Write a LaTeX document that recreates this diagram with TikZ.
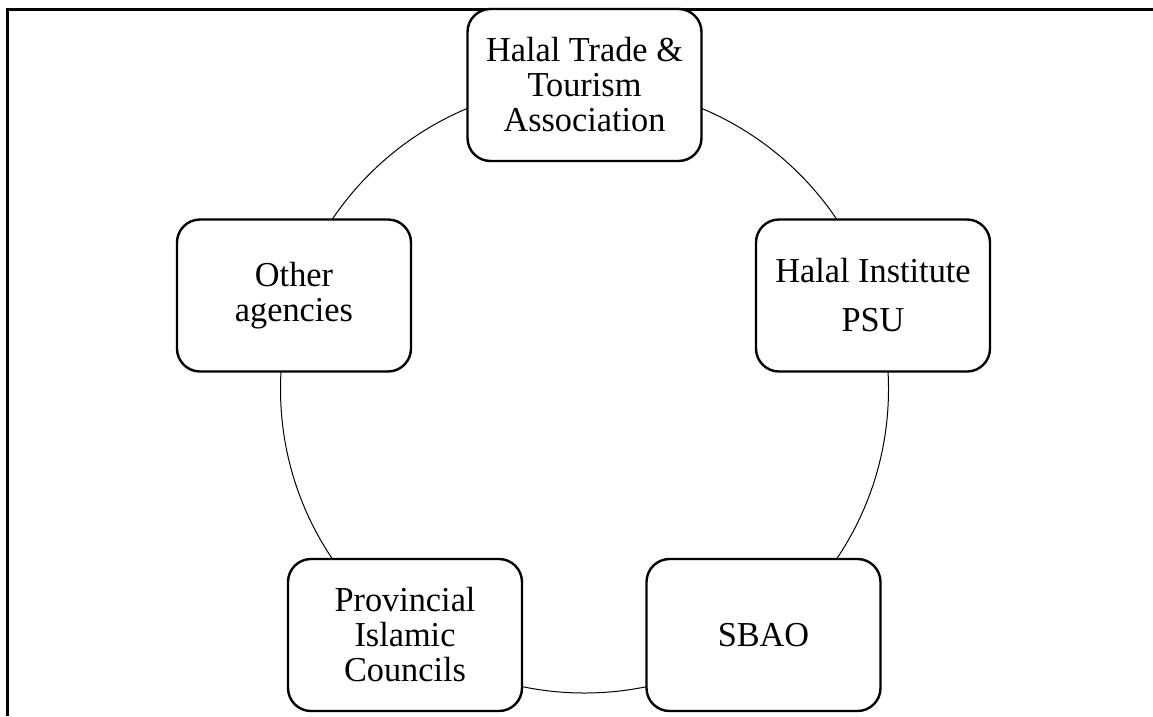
\documentclass[tikz,border=0pt]{standalone}
\usepackage{fontspec}
\setmainfont{Liberation Serif}[FakeStretch=0.98]
\begin{document}
\begin{tikzpicture}[x=1pt,y=-1pt,
  member/.style={draw, line width=2.4pt, fill=white, rounded corners=23pt,
    minimum width=234pt, minimum height=152pt, align=center, inner sep=0pt,
    font=\fontsize{35}{35}\selectfont},
  ringline/.style={draw, line width=1pt},
  frameline/.style={line width=3pt}]
\useasboundingbox (0,0) rectangle (1153,716);
\coordinate (fTR) at (1153,9.5);
\coordinate (fTL) at (7.5,9.5);
\coordinate (fBL) at (7.5,716);
\draw[frameline] (fTR) -- (fTL) -- (fBL);
\coordinate (c) at (584.5,389);
\node[ringline, circle, minimum size=608pt, inner sep=0pt] (ring) at (c) {};
\node[member] (top) at (584.5,85) {Halal Trade \&\\Tourism\\Association};
\node[member] (psu) at (873,295.5) {Halal Institute\\[14pt]PSU};
\node[member] (sbao) at (763.5,635) {SBAO};
\node[member] (pic) at (405,635) {Provincial\\Islamic\\Councils};
\node[member] (other) at (294,295.5) {Other\\agencies};
\end{tikzpicture}
\end{document}
